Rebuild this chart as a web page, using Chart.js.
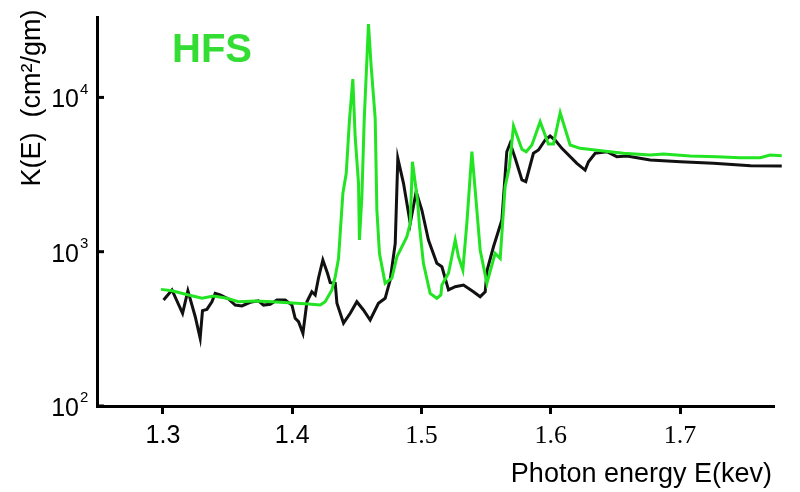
<!DOCTYPE html>
<html>
<head>
<meta charset="utf-8">
<script src="https://cdn.jsdelivr.net/npm/chart.js@4"></script>
<style>
    html, body { margin: 0; padding: 0; background: #fff; }
    #wrap { width: 800px; height: 492px; }
</style>
</head>
<body>
<div id="wrap"><canvas id="kChart" width="800" height="492"></canvas></div>
<script>
// Reference spectrum (black)
const energyBlack = [1.3005, 1.307, 1.3152, 1.3193, 1.325, 1.3288, 1.3306, 1.334, 1.3379, 1.3404,
    1.3443, 1.3507, 1.3559, 1.3611, 1.3675, 1.3739, 1.3778, 1.383, 1.3882, 1.3946,
    1.3998, 1.4023, 1.4049, 1.4083, 1.4114, 1.4152, 1.4178, 1.4203, 1.4237, 1.4273,
    1.4294, 1.4333, 1.4346, 1.4397, 1.4449, 1.45, 1.4551, 1.4603, 1.4667, 1.4719,
    1.4758, 1.4797, 1.4817, 1.4861, 1.4913, 1.4959, 1.5003, 1.5054, 1.5119, 1.5158,
    1.5209, 1.5261, 1.5325, 1.5402, 1.5454, 1.5493, 1.5508, 1.5557, 1.5622, 1.566,
    1.5686, 1.5725, 1.5777, 1.5807, 1.5866, 1.5905, 1.5957, 1.5995, 1.6034, 1.6086,
    1.6202, 1.6266, 1.6292, 1.6344, 1.6434, 1.6511, 1.6589, 1.6769, 1.7004, 1.7258,
    1.7546, 1.7787];
const kBlack = [486, 565, 399, 559, 379, 275, 415, 423, 474, 537,
    524, 494, 451, 445, 470, 481, 451, 456, 486, 486,
    451, 370, 352, 296, 474, 550, 524, 673, 884, 725,
    630, 624, 463, 344, 399, 474, 419, 361, 463, 499,
    656, 1133, 4030, 2773, 1528, 2449, 1862, 1191, 841, 799,
    565, 593, 608, 550, 511, 550, 760, 1077, 1605, 4446,
    5043, 4030, 2917, 2844, 4345, 4563, 5296, 5624, 5296, 4677,
    3741, 3382, 3831, 4345, 4446, 4128, 4172, 3929, 3831, 3741,
    3608, 3593];

// HFS spectrum (green)
const energyGreen = [1.2985, 1.307, 1.3198, 1.3302, 1.3391, 1.3495, 1.3585, 1.3714, 1.3843, 1.3971,
    1.4126, 1.4217, 1.4255, 1.4307, 1.4333, 1.4358, 1.4392, 1.4418, 1.4443, 1.4469,
    1.4487, 1.4513, 1.452, 1.4539, 1.4557, 1.459, 1.4611, 1.4642, 1.4655, 1.4675,
    1.4719, 1.4771, 1.481, 1.4887, 1.4913, 1.493, 1.4969, 1.4985, 1.5015, 1.5067,
    1.5119, 1.515, 1.5158, 1.5209, 1.5235, 1.5261, 1.5286, 1.532, 1.5351, 1.539,
    1.5423, 1.5454, 1.5506, 1.557, 1.5609, 1.5647, 1.568, 1.5712, 1.5777, 1.581,
    1.5854, 1.5918, 1.5982, 1.6021, 1.6073, 1.615, 1.6227, 1.6408, 1.6562, 1.6769,
    1.6872, 1.7078, 1.7285, 1.7465, 1.762, 1.7697, 1.7787];
const kGreen = [570, 559, 524, 499, 516, 499, 474, 479, 474, 467,
    458, 451, 474, 565, 689, 900, 2390, 3221, 7141, 13150,
    5564, 2773, 1191, 2271, 7141, 29900, 15810, 7320, 1862, 976,
    624, 673, 928, 1251, 1528, 3831, 2163, 1452, 841, 537,
    499, 524, 608, 725, 928, 1191, 928, 761, 1528, 4446,
    2109, 1026, 624, 976, 906, 2637, 3556, 6527, 4610, 4446,
    4913, 6960, 4990, 4990, 7960, 4913, 4677, 4494, 4345, 4237,
    4296, 4172, 4128, 4064, 4064, 4237, 4192];

const xTicks = [1.3, 1.4, 1.5, 1.6, 1.7];
const yTicks = [100, 1000, 10000];
const yExponents = ['2', '3', '4'];

const toPoints = (xs, ys) => xs.map((x, i) => ({ x: x, y: ys[i] }));

const textPlugin = {
    id: 'textPlugin',
    afterDraw(chart) {
        const ctx = chart.ctx;
        const yScale = chart.scales.y;
        const left = chart.chartArea.left;
        ctx.save();

        // y tick marks point into the plot
        ctx.strokeStyle = '#000';
        ctx.lineWidth = 3;
        yTicks.forEach(v => {
            const py = yScale.getPixelForValue(v);
            ctx.beginPath();
            ctx.moveTo(left, py);
            ctx.lineTo(left + 7, py);
            ctx.stroke();
        });

        // y tick labels 10^n
        ctx.fillStyle = '#000';
        yTicks.forEach((v, i) => {
            const py = yScale.getPixelForValue(v);
            ctx.font = '25px "Liberation Sans", Arial, sans-serif';
            ctx.textAlign = 'right';
            ctx.textBaseline = 'middle';
            ctx.fillText('10', 79, py + 3);
            ctx.font = '15px "Liberation Sans", Arial, sans-serif';
            ctx.textAlign = 'left';
            ctx.fillText(yExponents[i], 80, py - 8);
        });

        // y axis title
        ctx.save();
        ctx.translate(33, 98);
        ctx.rotate(-Math.PI / 2);
        ctx.font = '27px "Liberation Sans", Arial, sans-serif';
        ctx.textAlign = 'center';
        ctx.textBaseline = 'middle';
        ctx.fillText('K(E)  (cm\u00B2/gm)', 0, 0);
        ctx.restore();

        // x axis title
        ctx.font = '27px "Liberation Sans", Arial, sans-serif';
        ctx.textAlign = 'right';
        ctx.textBaseline = 'alphabetic';
        ctx.fillText('Photon energy E(kev)', 772, 482);

        // series label
        ctx.fillStyle = '#33dd33';
        ctx.font = 'bold 40px "Liberation Sans", Arial, sans-serif';
        ctx.textAlign = 'left';
        ctx.fillText('HFS', 172, 62);

        ctx.restore();
    }
};

const chartCtx = document.getElementById('kChart');
new Chart(chartCtx, {
    type: 'line',
    data: {
        datasets: [
            {
                label: 'HFS',
                data: toPoints(energyGreen, kGreen),
                borderColor: '#22e422',
                borderWidth: 3,
                pointRadius: 0,
                tension: 0,
                clip: false,
                order: 0
            },
            {
                label: 'Reference',
                data: toPoints(energyBlack, kBlack),
                borderColor: '#111',
                borderWidth: 3,
                pointRadius: 0,
                tension: 0,
                clip: false,
                order: 1
            }
        ]
    },
    options: {
        responsive: false,
        animation: false,
        devicePixelRatio: 1,
        layout: { padding: { top: 17, right: 26, left: 0, bottom: 0 } },
        plugins: {
            legend: { display: false },
            tooltip: { enabled: false }
        },
        scales: {
            x: {
                type: 'linear',
                min: 1.249,
                max: 1.7727,
                afterBuildTicks: scale => { scale.ticks = xTicks.map(v => ({ value: v })); },
                afterFit: scale => { scale.height = 86; },
                border: { display: true, color: '#000', width: 3 },
                grid: { drawOnChartArea: false, tickLength: 8, tickWidth: 3, tickColor: '#000' },
                ticks: {
                    color: '#000',
                    padding: 7,
                    maxRotation: 0,
                    callback: v => v.toFixed(1),
                    font: c => (c.tick && c.tick.value > 1.45)
                        ? { family: '"Liberation Serif", "Times New Roman", serif', size: 26 }
                        : { family: '"Liberation Sans", Arial, sans-serif', size: 25 }
                }
            },
            y: {
                type: 'logarithmic',
                min: 100,
                max: 33200,
                afterBuildTicks: scale => { scale.ticks = yTicks.map(v => ({ value: v })); },
                afterFit: scale => { scale.width = 97; },
                border: { display: true, color: '#000', width: 3 },
                grid: { display: false },
                ticks: { display: false }
            }
        }
    },
    plugins: [textPlugin]
});
</script>
</body>
</html>
